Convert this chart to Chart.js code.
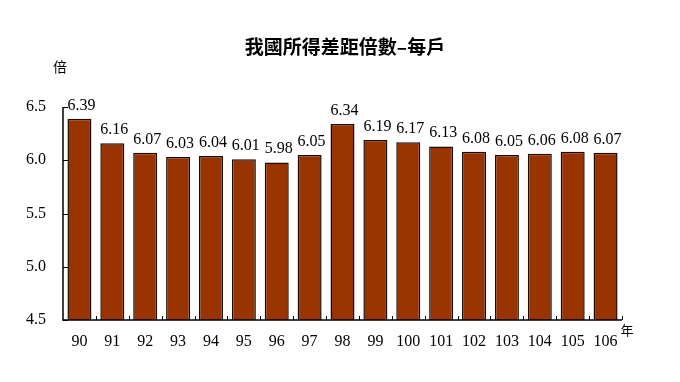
<!DOCTYPE html>
<html>
<head>
<meta charset="utf-8">
<script src="https://cdn.jsdelivr.net/npm/chart.js@4"></script>
<style>
  body { margin: 0; background: #fff; }
  #wrap { width: 680px; height: 382px; }
</style>
</head>
<body>
<div id="wrap"><canvas id="myChart" width="680" height="382"></canvas></div>
<script>
// data
const years = ['90', '91', '92', '93', '94', '95', '96', '97', '98', '99', '100', '101', '102', '103', '104', '105', '106']
const ratio = [6.39, 6.16, 6.07, 6.03, 6.04, 6.01, 5.98, 6.05, 6.34, 6.19, 6.17, 6.13, 6.08, 6.05, 6.06, 6.08, 6.07]
const yTicks = [4.5, 5.0, 5.5, 6.0, 6.5]

const serif = '"Liberation Serif", "Times New Roman", serif'
const cjk = '"Noto Sans CJK TC", sans-serif'

// labels on bars, inward tick marks, title and units
const extras = {
  id: 'extras',
  afterDraw(chart) {
    const ctx = chart.ctx
    const x = chart.scales.x
    const y = chart.scales.y
    const area = chart.chartArea
    ctx.save()

    // axis lines
    ctx.strokeStyle = '#000'
    ctx.lineWidth = 1.5
    ctx.beginPath()
    ctx.moveTo(area.left, area.top)
    ctx.lineTo(area.left, area.bottom)
    ctx.lineTo(area.right, area.bottom)
    ctx.stroke()

    // y ticks pointing inward
    ctx.lineWidth = 1
    yTicks.forEach(v => {
      const py = Math.round(y.getPixelForValue(v)) + 0.5
      ctx.beginPath()
      ctx.moveTo(area.left, py)
      ctx.lineTo(area.left + 5, py)
      ctx.stroke()
    })
    // x ticks between categories
    const step = x.getPixelForValue(1) - x.getPixelForValue(0)
    for (let i = 1; i <= years.length; i++) {
      const px = Math.round(x.getPixelForValue(i - 1) + step / 2) + 0.5
      ctx.beginPath()
      ctx.moveTo(px, area.bottom)
      ctx.lineTo(px, area.bottom - 4)
      ctx.stroke()
    }

    // value labels
    ctx.fillStyle = '#000'
    ctx.font = '16px ' + serif
    ctx.textAlign = 'center'
    ctx.textBaseline = 'alphabetic'
    const meta = chart.getDatasetMeta(0)
    meta.data.forEach((bar, i) => {
      ctx.fillText(ratio[i].toFixed(2), bar.x + 2, bar.y - 9)
    })

    // title
    ctx.font = 'bold 19px ' + cjk
    ctx.textBaseline = 'middle'
    ctx.fillText('我國所得差距倍數–每戶', 345, 47)

    // units
    ctx.font = '14px ' + cjk
    ctx.fillText('倍', 60, 67)
    ctx.font = '13px ' + cjk
    ctx.fillText('年', 627, 330)
    ctx.restore()
  }
}

const ctx = document.getElementById('myChart').getContext('2d')
new Chart(ctx, {
  type: 'bar',
  data: {
    labels: years,
    datasets: [{
      data: ratio,
      backgroundColor: '#993300',
      borderColor: '#1a0a00',
      borderWidth: 1.5,
      borderSkipped: 'bottom',
      categoryPercentage: 0.73,
      barPercentage: 1
    }]
  },
  options: {
    responsive: false,
    animation: false,
    layout: { padding: { top: 107, right: 58, bottom: 0, left: 0 } },
    plugins: {
      legend: { display: false },
      title: { display: false },
      tooltip: { enabled: false }
    },
    scales: {
      x: {
        grid: { display: false, drawTicks: false },
        border: { display: false },
        ticks: { color: '#000', font: { family: serif, size: 16 }, padding: 12, maxRotation: 0, autoSkip: false },
        afterFit(scale) { scale.height = 62 }
      },
      y: {
        min: 4.5,
        max: 6.5,
        afterBuildTicks(scale) { scale.ticks = yTicks.map(v => ({ value: v })) },
        grid: { display: false, drawTicks: false },
        border: { display: false },
        ticks: {
          color: '#000',
          font: { family: serif, size: 16 },
          padding: 17,
          callback: v => v.toFixed(1)
        },
        afterFit(scale) { scale.width = 63 }
      }
    }
  },
  plugins: [extras]
})
</script>
</body>
</html>
